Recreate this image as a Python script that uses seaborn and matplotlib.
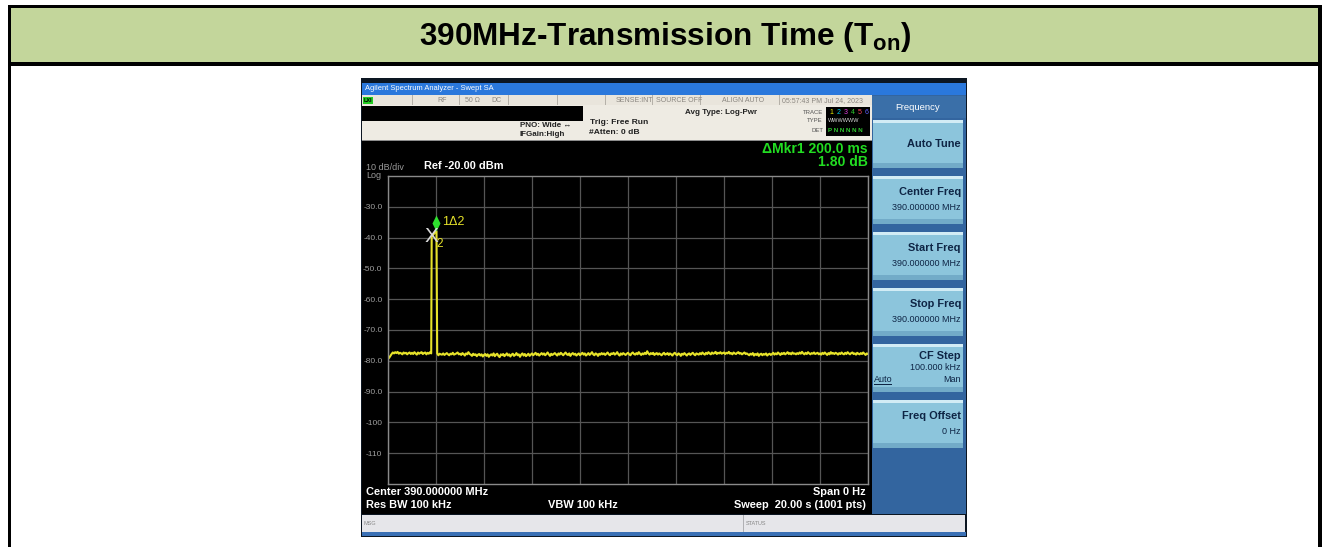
import numpy as np
import pandas as pd
import seaborn as sns
import matplotlib
matplotlib.use("Agg")
import matplotlib.pyplot as plt
from matplotlib.patches import Rectangle
from matplotlib.path import Path

# ---------------- data ----------------
chart_title = "390MHz-Transmission Time (T$_{\\mathrm{on}}$)"
sweep_span_s = 20.0
noise_floor_dbm = [
    -79.3, -79.0, -78.4, -77.8, -77.3, -77.6, -77.2, -77.5, -77.1, -77.7, -77.4, -77.6, -77.9, -77.3, -77.6, -77.4, -77.9, -77.5, -77.3, -77.8,
    -77.4, -77.8, -77.2, -77.6, -78.0, -77.3, -77.7, -77.4, -77.2, -77.8, -77.5, -77.3, -77.9, -77.4, -77.7, -77.2, -77.6, -77.8, -77.5, -77.7,
    -77.9, -77.6, -78.2, -77.7, -77.9, -78.0, -77.6, -78.1, -77.8, -77.5, -77.9, -78.2, -77.7, -77.9, -77.4, -78.0, -77.8, -77.6, -77.3, -77.9,
    -77.7, -78.1, -77.5, -77.8, -78.3, -77.6, -77.9, -77.2, -77.8, -78.0, -78.4, -77.7, -78.1, -77.9, -78.5, -78.0, -77.8, -78.3, -77.9, -78.6,
    -78.1, -77.8, -78.4, -77.9, -78.7, -78.2, -77.9, -78.3, -77.6, -78.5, -78.0, -77.7, -78.4, -78.8, -77.9, -78.2, -77.8, -78.5, -78.1, -77.6,
    -78.3, -77.9, -78.6, -78.0, -77.7, -78.4, -78.1, -77.5, -78.2, -77.9, -78.7, -78.0, -77.6, -78.3, -77.8, -78.5, -78.1, -77.7, -78.4, -78.0,
    -77.6, -78.2, -77.8, -77.4, -78.1, -77.7, -78.3, -77.9, -77.5, -78.0, -77.6, -78.2, -77.8, -77.3, -77.9, -78.4, -77.7, -78.1, -77.8, -77.5,
    -77.9, -78.3, -77.6, -78.0, -77.4, -77.8, -78.2, -77.7, -77.3, -77.9, -78.1, -77.6, -78.4, -77.8, -77.5, -78.0, -77.7, -78.3, -77.9, -77.6,
    -78.2, -77.8, -77.4, -78.0, -77.6, -78.3, -77.9, -77.5, -78.1, -77.7, -77.2, -77.9, -78.2, -77.6, -77.8, -78.4, -77.7, -78.0, -77.5, -77.9,
    -77.6, -78.1, -77.7, -77.3, -77.9, -78.2, -77.6, -77.8, -77.4, -78.0, -77.7, -77.2, -77.9, -78.3, -77.6, -78.0, -77.5, -77.8, -78.1, -77.7,
    -77.4, -77.9, -78.2, -77.6, -77.3, -77.8, -78.0, -77.5, -77.9, -77.2, -77.7, -78.1, -77.6, -77.9, -77.4, -77.8, -76.9, -77.6, -78.0, -77.5,
    -77.8, -77.4, -78.1, -77.7, -77.5, -78.0, -77.6, -77.9, -78.2, -77.7, -77.4, -78.0, -77.8, -77.5, -78.1, -77.6, -77.9, -78.3, -77.7, -77.4,
    -77.9, -78.2, -77.6, -77.8, -78.4, -77.7, -78.0, -77.5, -77.9, -78.3, -77.8, -77.6, -78.1, -77.7, -77.4, -77.9, -78.2, -77.6, -77.8, -78.0,
    -77.5, -77.9, -77.3, -77.7, -78.0, -77.4, -77.8, -77.2, -77.6, -77.9, -77.3, -77.7, -77.5, -77.1, -77.8, -77.4, -77.6, -77.2, -77.7, -77.5,
    -77.3, -77.8, -77.4, -77.6, -77.1, -77.7, -77.5, -77.9, -77.3, -77.6, -77.8, -77.4, -77.2, -77.7, -77.5, -77.9, -77.6, -77.3, -77.8, -77.6,
    -77.9, -78.2, -77.7, -78.0, -77.5, -78.3, -77.8, -78.1, -77.6, -78.4, -77.9, -77.7, -78.2, -77.8, -78.0, -77.6, -78.3, -77.9, -77.7, -78.1,
    -77.8, -77.4, -78.0, -77.6, -77.9, -77.3, -77.7, -78.1, -77.5, -77.8, -77.4, -77.9, -77.6, -77.2, -77.8, -77.5, -77.9, -77.3, -77.7, -77.6,
    -77.9, -77.5, -77.8, -77.3, -77.7, -77.1, -77.6, -77.9, -77.4, -77.8, -77.2, -77.6, -77.9, -77.5, -77.7, -77.3, -77.8, -77.6, -77.4, -77.9,
    -77.6, -78.0, -77.4, -77.8, -77.3, -77.7, -78.1, -77.5, -77.9, -77.2, -77.7, -77.5, -77.8, -77.4, -77.6, -78.0, -77.5, -77.8, -77.3, -77.7,
    -77.9, -77.4, -77.8, -77.2, -77.6, -77.9, -77.5, -77.3, -77.8, -77.6, -78.0, -77.4, -77.7, -77.9, -77.5, -77.8, -77.3, -77.7, -78.1, -77.6,
    -77.8,
]
pulse_time_s = [1.82, 1.86, 1.90, 1.94, 1.98, 2.02]
pulse_dbm = [-39.7, -39.3, -38.9, -38.5, -38.2, -37.9]
marker_ref = (1.82, -39.7)      # marker 2 (X)
marker_delta = (2.02, -37.9)    # marker 1 (delta)
y_ticks = [-30, -40, -50, -60, -70, -80, -90, -100, -110]
y_tick_labels = ["-30.0", "-40.0", "-50.0", "-60.0", "-70.0", "-80.0", "-90.0", "-100", "-110"]

floor_t = np.linspace(0, sweep_span_s, len(noise_floor_dbm))
floor_v = np.array(noise_floor_dbm)
before = floor_t < pulse_time_s[0]
after = floor_t > pulse_time_s[-1]
trace = pd.DataFrame({
    "time": np.concatenate([floor_t[before], pulse_time_s, floor_t[after]]),
    "dbm": np.concatenate([floor_v[before], pulse_dbm, floor_v[after]]),
})

# ---------------- figure ----------------
sns.set_theme(style="dark")
plt.rcParams["font.family"] = ["Liberation Sans", "DejaVu Sans"]
plt.rcParams["mathtext.fontset"] = "custom"
plt.rcParams["mathtext.rm"] = "Liberation Sans:bold"
plt.rcParams["mathtext.bf"] = "Liberation Sans:bold"

W, H = 1330, 547
fig = plt.figure(figsize=(W / 100, H / 100), dpi=100, facecolor="white")


def R(x0, y0, x1, y1, fc, z=1):
    fig.add_artist(Rectangle((x0 / W, 1 - y1 / H), (x1 - x0) / W, (y1 - y0) / H,
                             transform=fig.transFigure, facecolor=fc, edgecolor="none",
                             linewidth=0, zorder=z))


def T(x, y, s, px, color="black", ha="left", weight="normal", z=5, **kw):
    fig.text(x / W, 1 - y / H, s, fontsize=px * 0.72, color=color, ha=ha, va="center",
             fontweight=weight, zorder=z, **kw)


# outer frame and title band
R(10.5, 8, 1318, 62, "#c3d69b")
R(7.5, 5, 1322, 8, "black")
R(7.5, 5, 10.5, 547, "black")
R(1318, 5, 1322, 547, "black")
R(7.5, 62, 1322, 66, "black")
T(665, 37, chart_title, 31.5, weight="bold", ha="center")

# screenshot body
R(361, 78, 967, 537, "#0c1622")
R(362, 83, 966, 95, "#2a78dc")
T(365, 89, "Agilent Spectrum Analyzer - Swept SA", 7.5, color="white")
R(362, 95, 872, 105, "#e9e5dc")
R(363, 97, 373, 104, "#22cc22")
T(364, 100.5, "LXI", 5.5, color="black", weight="bold")
for sx in [412, 459, 508, 557, 605, 652, 700, 779]:
    R(sx, 95, sx + 1, 105, "#b5b1a9", z=2)
for sx, s in [(437, "RF"), (465, "50 Ω"), (491, "DC"), (616, "SENSE:INT"), (656, "SOURCE OFF"),
              (722, "ALIGN AUTO"), (782, "05:57:43 PM Jul 24, 2023")]:
    T(sx, 100.5, s, 7, color="#8a8680")
R(362, 105, 872, 140, "#eeebe3")
R(362, 106, 583, 121, "black", z=2)
T(685, 112, "Avg Type: Log-Pwr", 8, weight="bold", color="#222222")
T(520, 125, "PNO: Wide \u2194", 8, weight="bold", color="#222222")
T(520, 134, "IFGain:High", 8, weight="bold", color="#222222")
T(590, 122, "Trig: Free Run", 8.5, weight="bold", color="#222222")
T(589, 132, "#Atten: 0 dB", 8.5, weight="bold", color="#222222")
T(823, 112, "TRACE", 6, color="#555555", ha="right")
T(823, 121, "TYPE", 6, color="#555555", ha="right")
T(823, 130, "DET", 6, color="#555555", ha="right")
R(826, 107, 870, 136, "black", z=2)
for i, c in enumerate(["#e8e800", "#00c8e8", "#e040e0", "#30d030", "#ff4060", "#6060ff"]):
    T(829 + i * 7.2, 112, str(i + 1), 7, color=c)
T(828, 121, "WWWWWW", 5.5, color="#dddddd")
T(828, 130, "P N N N N N", 6.3, color="#30d030", weight="bold")
R(362, 140, 872, 141, "#8c8c8c", z=2)
R(362, 141, 872, 514, "black")
T(868, 149, "\u0394Mkr1 200.0 ms", 14, color="#22dd22", ha="right", weight="bold")
T(868, 162, "1.80 dB", 14, color="#22dd22", ha="right", weight="bold")
T(366, 167, "10 dB/div", 9, color="#9a9a9a")
T(366, 175, "Log", 9, color="#9a9a9a")
T(424, 166, "Ref -20.00 dBm", 11, color="white", weight="bold")
T(366, 492, "Center 390.000000 MHz", 11, color="white", weight="bold")
T(366, 505, "Res BW 100 kHz", 11, color="white", weight="bold")
T(548, 505, "VBW 100 kHz", 11, color="white", weight="bold")
T(866, 492, "Span 0 Hz", 11, color="white", weight="bold", ha="right")
T(866, 505, "Sweep  20.00 s (1001 pts)", 11, color="white", weight="bold", ha="right")
R(362, 515, 965, 532, "#e6e6ea")
R(743, 515, 744, 532, "#b0b0b4", z=2)
T(364, 523.5, "MSG", 5.5, color="#888888")
T(746, 523.5, "STATUS", 5.5, color="#888888")
R(362, 532, 966, 536, "#3a70b5")

# softkey panel
R(872, 95, 966, 514, "#33659f")
R(872, 96, 966, 118, "#3a6fa8", z=2)
T(918, 107, "Frequency", 9.5, color="white", ha="center")
keys = [("Auto Tune", []), ("Center Freq", ["390.000000 MHz"]), ("Start Freq", ["390.000000 MHz"]),
        ("Stop Freq", ["390.000000 MHz"]), ("CF Step", ["100.000 kHz"]), ("Freq Offset", ["0 Hz"])]
for i, (k, subs) in enumerate(keys):
    y0 = 120 + 56 * i
    R(873, y0, 963, y0 + 48, "#8cc5dc", z=2)
    R(873, y0, 963, y0 + 3, "#d2ecf5", z=3)
    R(873, y0 + 43, 963, y0 + 48, "#72abc8", z=3)
    if subs:
        T(961, y0 + 12 if k == "CF Step" else y0 + 16, k, 11, color="#0e2545", ha="right", weight="bold")
        T(961, y0 + 23 if k == "CF Step" else y0 + 32, subs[0], 9, color="#0e2545", ha="right")
    else:
        T(961, y0 + 24, k, 11, color="#0e2545", ha="right", weight="bold")
T(874, 379, "Auto", 9, color="#0e2545")
R(874, 384, 892, 385, "#0e2545", z=4)
T(961, 379, "Man", 9, color="#0e2545", ha="right")

# graticule
ax = fig.add_axes([388 / W, 1 - 484 / H, 480 / W, 308 / H], zorder=3)
ax.set_facecolor("black")
sns.lineplot(data=trace, x="time", y="dbm", ax=ax, color="#e6e22a", linewidth=1.5,
             estimator=None, sort=False)
ax.set_xlim(0, sweep_span_s)
ax.set_ylim(-120, -20)
ax.set_xticks(np.arange(0, sweep_span_s + 0.1, 2))
ax.set_xticklabels([])
ax.set_yticks(y_ticks)
ax.set_yticklabels(y_tick_labels)
ax.tick_params(axis="both", length=0, pad=4)
ax.tick_params(axis="y", labelsize=6, labelcolor="#a0a0a0")
ax.grid(True, color="#555555", linewidth=0.9)
for sp in ax.spines.values():
    sp.set_color("#8a8a8a")
    sp.set_linewidth(1.0)
ax.set_xlabel("")
ax.set_ylabel("")

diamond = Path([(0, 0), (-0.5, 1), (0, 2), (0.5, 1), (0, 0)],
               [Path.MOVETO, Path.LINETO, Path.LINETO, Path.LINETO, Path.CLOSEPOLY])
ax.plot([marker_delta[0]], [marker_delta[1]], marker=diamond, markersize=23,
        color="#2ee02e", markeredgewidth=0, linestyle="none", zorder=5)
ax.annotate("1\u03942", xy=marker_delta, xytext=(6, 9), textcoords="offset pixels",
            color="#e6e22a", fontsize=9, ha="left", va="center")
ax.annotate("X", xy=marker_ref, xytext=(0, 0), textcoords="offset pixels",
            color="#d8d8d8", fontsize=15, ha="center", va="center", zorder=6)
ax.annotate("2", xy=marker_ref, xytext=(8, -7), textcoords="offset pixels",
            color="#e6e22a", fontsize=8.5, ha="center", va="center", zorder=6)

fig.savefig("out.png", dpi=100, facecolor="white")
